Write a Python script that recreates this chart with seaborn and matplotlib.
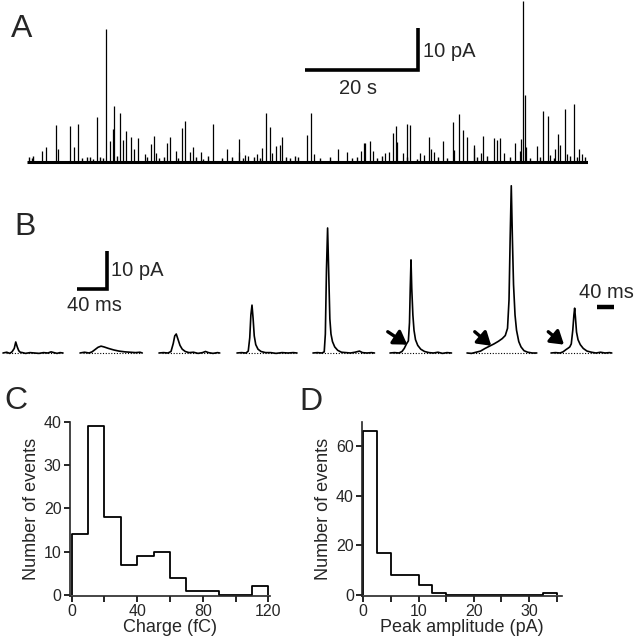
import numpy as np
import pandas as pd
import matplotlib
matplotlib.use("Agg")
import matplotlib.pyplot as plt
from matplotlib.ticker import FixedLocator
import seaborn as sns

# ---------------- Panel A: continuous recording (time in s, amplitude in pA)
a_times = [2.6, 3.4, 5.1, 5.5, 7.6, 8.3, 9.0, 12.4, 14.0, 14.7,
           15.2, 15.4, 16.4, 17.0, 17.6, 18.4, 19.0, 19.7, 20.9, 21.9,
           22.4, 22.8, 24.8, 25.4, 26.3, 27.4, 27.9, 28.8, 29.3, 30.8,
           32.9, 35.4, 37.5, 37.6, 38.6, 39.2, 40.7, 41.6, 42.3, 43.0,
           43.4, 44.1, 44.7, 45.1, 49.6, 50.2, 50.8, 55.0, 56.6, 59.2,
           59.7, 59.9, 60.7, 61.2, 63.4, 64.0, 64.7, 65.3, 65.5, 66.5,
           67.3, 67.8, 69.6, 70.3, 71.1, 71.5, 72.0, 73.6, 75.4, 75.6,
           76.4, 77.2, 77.9, 79.1, 79.2, 80.4, 80.8, 82.6, 83.2, 83.8,
           84.5, 86.4, 87.2, 87.4, 87.8, 88.1, 88.4, 90.2, 91.3, 92.2,
           92.6, 93.5, 94.0, 94.4, 95.2, 95.6, 96.9, 97.7, 98.3]
a_amps = [2.6, 3.6, 8.8, 3.1, 8.6, 3.6, 9.0, 10.7, 31.7, 5.0,
          7.9, 13.3, 11.7, 5.2, 7.4, 6.0, 3.1, 5.7, 1.9, 4.3,
          6.2, 2.1, 4.5, 6.0, 2.6, 8.1, 9.8, 2.4, 3.6, 2.4,
          9.0, 3.1, 2.4, 5.5, 1.7, 1.4, 1.9, 3.3, 11.7, 8.3,
          2.1, 3.8, 4.0, 6.0, 6.4, 11.7, 1.9, 3.1, 2.4, 2.6,
          4.5, 4.5, 5.0, 2.6, 2.1, 2.4, 6.9, 8.6, 4.8, 2.1,
          9.0, 8.8, 2.1, 1.7, 6.0, 3.1, 2.4, 5.0, 9.5, 2.9,
          11.4, 7.6, 6.0, 3.3, 4.0, 2.1, 6.2, 5.7, 5.2, 5.7,
          2.1, 4.5, 2.6, 5.5, 38.3, 16.0, 3.6, 3.8, 12.1, 11.0,
          1.7, 3.1, 6.7, 4.0, 12.6, 1.9, 13.8, 3.1, 1.9]
a_small_times = [0.4, 0.8, 1.1, 9.7, 10.6, 11.1, 11.7, 12.9, 13.5, 15.9,
                 21.2, 23.4, 24.2, 26.8, 30.0, 31.2, 32.1, 34.5, 36.2, 38.2,
                 40.1, 41.2, 45.8, 46.5, 47.4, 48.0, 51.9, 53.6, 57.5, 58.4,
                 61.9, 62.8, 67.2, 69.0, 72.8, 74.3, 79.6, 81.4, 85.5, 89.0,
                 90.8, 93.2, 96.1, 97.3, 98.8]
a_small_amps = [1.2, 1.0, 1.4, 0.9, 1.1, 1.3, 0.8, 1.2, 1.0, 1.5,
                1.1, 0.9, 1.3, 1.0, 1.2, 0.8, 1.4, 1.0, 1.1, 0.9,
                1.3, 1.0, 1.2, 0.9, 1.4, 1.1, 1.0, 1.3, 0.9, 1.2,
                1.0, 1.4, 1.1, 0.8, 1.3, 1.0, 1.2, 1.5, 1.1, 0.9,
                1.3, 1.0, 1.4, 1.2, 1.1]
a_duration = 99.3

# ---------------- Panel B: individual events (time in ms, current in pA)
b_offsets = [4, 106.7, 212, 316, 417.3, 520, 622.7, 734.7]
b_t = [
    [0, 5, 9, 12, 15, 17, 19, 21, 23, 26, 30, 36, 42, 48, 54, 60, 64, 68, 72, 76, 80],
    [0, 6, 12, 16, 20, 24, 28, 32, 38, 45, 52, 60, 67, 74, 80, 83],
    [0, 6, 12, 16, 19, 21, 23, 25, 28, 31, 35, 40, 46, 52, 58, 62, 66, 72, 78, 81],
    [0, 6, 12, 15, 17, 18.5, 20, 21.5, 23, 25, 28, 32, 38, 45, 52, 60, 68, 75, 80],
    [0, 6, 12, 15, 16.5, 18, 19.5, 21, 22.5, 24, 26, 29, 33, 38, 44, 50, 56, 62, 66, 72, 78, 82],
    [0, 6, 12, 16, 19, 22, 24.5, 26, 27, 28, 29, 30.5, 32, 34, 37, 41, 46, 52, 58, 64, 70, 76, 82],
    [0, 6, 12, 18, 24, 30, 36, 42, 47, 51, 54, 56, 57.5, 59, 60.5, 62, 64, 66, 69, 72, 76, 81, 87, 93],
    [0, 6, 12, 16, 20, 23, 25, 27, 29, 30.5, 31.5, 32.5, 34, 36, 39, 43, 48, 54, 60, 66, 72, 78, 81],
]
b_i = [
    [0, 0.2, -0.1, 0.3, 1.2, 2.9, 1.6, 0.6, 0.2, 0.1, -0.1, 0.1, 0, -0.1, 0.1, 0, 0.3, 0.1, -0.1, 0.1, 0],
    [0, 0.2, 0, 0.3, 0.9, 1.5, 1.8, 1.6, 1.2, 0.8, 0.5, 0.3, 0.2, 0.1, 0.2, 0],
    [0, 0.1, 0, 0.4, 2.5, 4.5, 5.0, 3.8, 2.0, 1.0, 0.4, 0.1, 0.2, -0.1, 0.1, 0.4, 0.1, -0.1, 0.1, 0],
    [0, 0.1, 0, 0.5, 4, 10, 12.6, 9, 4.5, 2.2, 1.0, 0.4, 0.1, 0.1, -0.1, 0.1, 0, 0.1, 0],
    [0, 0.1, 0, 0.3, 5, 22, 32.9, 21, 9, 5, 3, 1.6, 0.7, 0.2, 0.1, 0, 0.2, 0.5, 0.1, 0, 0.1, 0],
    [0, 0.1, 0, 0.4, 1.2, 2.4, 3.2, 8, 17, 24.5, 17, 10, 6, 3.5, 2, 1, 0.4, 0.1, 0, 0.2, -0.1, 0.1, 0],
    [0, -0.1, 0.2, 0.5, 1.2, 1.8, 2.4, 3.1, 3.8, 4.6, 6.5, 14, 30, 44, 30, 18, 10, 6, 3, 1.6, 0.6, 0.2, 0, 0],
    [0, 0.1, 0, 0.3, 0.9, 1.3, 1.6, 2.4, 6, 10, 11.8, 9.5, 5.5, 3.5, 2.2, 1.2, 0.5, 0.2, 0, 0.2, 0, 0.1, 0],
]

# ---------------- Panel C: charge histogram
c_edges = [0, 10, 20, 30, 40, 50, 60, 70, 80, 90, 100, 110, 120]
c_counts = [14, 39, 18, 7, 9, 10, 4, 1, 1, 0, 0, 2]
c_xticks = [0, 40, 80, 120]
c_yticks = [0, 10, 20, 30, 40]

# ---------------- Panel D: peak amplitude histogram
d_edges = [0, 2.5, 5, 7.5, 10, 12.5, 15, 17.5, 20, 22.5, 25, 27.5, 30, 32.5, 35]
d_counts = [66, 17, 8, 8, 4, 1, 0, 0, 0, 0, 0, 0, 0, 1]
d_xticks = [0, 10, 20, 30]
d_yticks = [0, 20, 40, 60]

# ---------------- style
sns.set_style("ticks")
plt.rcParams["font.family"] = ["Liberation Sans", "DejaVu Sans"]
plt.rcParams["axes.linewidth"] = 1.2

W, H = 634, 639
fig = plt.figure(figsize=(W / 100, H / 100), dpi=100)


def px_axes(l, t, r, b):
    return fig.add_axes([l / W, 1 - b / H, (r - l) / W, (b - t) / H])


SB = 14.5  # scale bar text size

# ---------------- Panel A
axa = px_axes(27, 0, 588, 175)
axa.set_xlim(0, a_duration)
axa.set_ylim(-13 / 4.2, 162 / 4.2)
axa.axis("off")
axa.plot([0, a_duration], [0, 0], color="black", lw=2.2, solid_capstyle="butt")
axa.vlines(a_small_times, 0, a_small_amps, color="black", lw=1.0)
axa.vlines(a_times, 0, a_amps, color="black", lw=0.9)
bar_x0 = 49.2
axa.plot([bar_x0, bar_x0 + 20, bar_x0 + 20], [21.9, 21.9, 31.9], color="black",
         lw=2.6, solid_joinstyle="miter", solid_capstyle="butt")
axa.text(bar_x0 + 20.9, 26.4, "10 pA", fontsize=SB, va="center", ha="left")
axa.text(bar_x0 + 9.4, 17.4, "20 s", fontsize=SB, va="center", ha="center")

# ---------------- Panel B
axb = px_axes(0, 180, 634, 370)
msp = 40 / 30.0  # ms per pixel
ppa = 3.8        # px per pA
axb.set_xlim(0, W * msp)
axb.set_ylim(-(370 - 353) / ppa, (353 - 180) / ppa)
axb.axis("off")
for off, tt, ii in zip(b_offsets, b_t, b_i):
    xs = [off + v for v in tt]
    axb.plot([xs[0] + 4, xs[-1] - 2], [0, 0], color="black", lw=0.8,
             linestyle=(0, (1, 1.5)))
    axb.plot(xs, ii, color="black", lw=1.2)
# scale bar left
axb.plot([102.7, 142.7, 142.7], [16.8, 16.8, 26.8], color="black", lw=2.6,
         solid_joinstyle="miter", solid_capstyle="butt")
axb.text(148, 21.6, "10 pA", fontsize=SB, va="center", ha="left")
axb.text(126, 12.4, "40 ms", fontsize=SB, va="center", ha="center")
# scale bar right
axb.plot([796, 818.7], [12.1, 12.1], color="black", lw=3.2, solid_capstyle="butt")
axb.text(809, 15.9, "40 ms", fontsize=SB, va="center", ha="center")
# arrows
for tail, tip in [((517, 5.6), (543, 2.2)), ((633, 5.6), (655, 1.9)), ((731, 5.6), (752, 2.2))]:
    axb.annotate("", xy=tip, xytext=tail,
                 arrowprops=dict(arrowstyle="-|>,head_length=0.55,head_width=0.35",
                                 lw=2.4, color="black", shrinkA=0, shrinkB=0,
                                 mutation_scale=14))


# ---------------- histograms
def style_hist(ax, xlim, ylim, xt, xminor, yt):
    ax.set_xlim(*xlim)
    ax.set_ylim(*ylim)
    sns.despine(ax=ax)
    ax.xaxis.set_major_locator(FixedLocator(xt))
    ax.xaxis.set_minor_locator(FixedLocator(xminor))
    ax.yaxis.set_major_locator(FixedLocator(yt))
    ax.tick_params(which="both", direction="out", length=4, width=1.2,
                   labelsize=11.5, pad=2, color="black")
    ax.spines["left"].set_bounds(ylim[0], ylim[1])


axc = px_axes(70, 421.7, 270, 596)
c_centers = [(c_edges[i] + c_edges[i + 1]) / 2 for i in range(len(c_counts))]
sns.histplot(x=c_centers, weights=c_counts, bins=c_edges, element="step",
             fill=False, color="black", linewidth=1.3, ax=axc)
axc.vlines([c_edges[0], c_edges[-1]], 0, [c_counts[0], c_counts[-1]],
           color="black", lw=1.3)
style_hist(axc, (-1.04, 121), (-0.23, 40), c_xticks, [20, 60, 100], c_yticks)
axc.set_xlabel("Charge (fC)", fontsize=13, labelpad=0)
axc.set_ylabel("Number of events", fontsize=13, labelpad=3)

axd = px_axes(362.3, 421.7, 562.3, 596)
d_centers = [(d_edges[i] + d_edges[i + 1]) / 2 for i in range(len(d_counts))]
sns.histplot(x=d_centers, weights=d_counts, bins=d_edges, element="step",
             fill=False, color="black", linewidth=1.3, ax=axd)
axd.vlines([d_edges[0], d_edges[-1]], 0, [d_counts[0], d_counts[-1]],
           color="black", lw=1.3)
style_hist(axd, (-0.18, 36), (-0.28, 69.6), d_xticks, [5, 15, 25, 35], d_yticks)
axd.set_xlabel("Peak amplitude (pA)", fontsize=13, labelpad=0)
axd.set_ylabel("Number of events", fontsize=13, labelpad=3)

# ---------------- panel letters
for letter, x, y in [("A", 11, 14), ("B", 14, 212), ("C", 4, 386), ("D", 299, 387)]:
    fig.text(x / W, 1 - y / H, letter, fontsize=23, ha="left", va="top")

fig.savefig("out.png", dpi=100, facecolor="white")
